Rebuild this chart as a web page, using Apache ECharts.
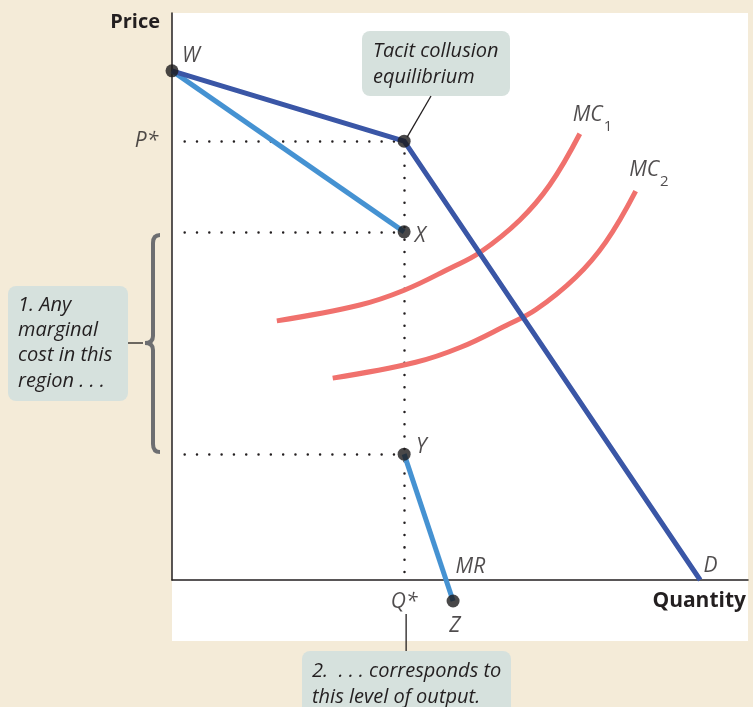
<!DOCTYPE html>
<html><head><meta charset="utf-8">
<script src="https://cdn.jsdelivr.net/npm/echarts@6/dist/echarts.min.js"></script>
<style>html,body{margin:0;padding:0;background:#f4ebd8}#c{width:753px;height:707px}</style>
</head><body><div id="c"></div>
<script>
// Demand curve (kinked at tacit collusion equilibrium)
const demandQ = [0, 40.3, 91.7];
const demandP = [89.8, 77.4, 0];
// Marginal revenue: upper segment and lower segment (gap between X and Y)
const mrUpperQ = [0, 40.3];
const mrUpperP = [89.8, 61.4];
const mrLowerQ = [40.3, 48.8];
const mrLowerP = [22.2, -3.7];
// Marginal cost curves
const mc1Q = [18.2, 32.6, 40.3, 48.3, 53.5, 60.4, 65.6, 70.8];
const mc1P = [45.7, 48.5, 51.1, 55.0, 57.8, 63.5, 69.7, 78.7];
const mc2Q = [27.9, 42.3, 50.0, 58.0, 63.2, 70.1, 75.3, 80.5];
const mc2P = [35.6, 38.4, 41.0, 44.9, 47.7, 53.4, 59.6, 68.6];
// Key points W, equilibrium, X, Y, Z
const pointNames = ['W', 'E', 'X', 'Y', 'Z'];
const pointQ = [0, 40.3, 40.3, 40.3, 48.8];
const pointP = [89.8, 77.4, 61.4, 22.2, -3.7];
// Dotted guides
const qStar = 40.3;
const guideStartQ = 2.2;
const guideLevels = [77.4, 61.4, 22.2];
// Text labels (anchored in data units)
const labelTexts = ['W', 'P*', 'X', 'Y', 'MR', 'Q*', 'Z', 'D', '{m|MC}{s|1}', '{m|MC}{s|2}'];
const labelQ = [3.3, -2.4, 43.1, 43.3, 51.8, 40.3, 49.1, 93.5, 73.0, 82.8];
const labelP = [92.4, 77.4, 60.6, 23.5, 2.3, -3.8, -8.1, 2.5, 81.3, 71.6];
const labelAlign = ['center', 'right', 'center', 'center', 'center', 'center', 'center', 'center', 'center', 'center'];

const zip = (a, b) => a.map((v, i) => [v, b[i]]);
const ink = '#231f20';
const italic = { fontFamily: 'Open Sans', fontStyle: 'italic', fontSize: 21, color: ink };

const chart = echarts.init(document.getElementById('c'));
const option = {
  backgroundColor: '#f4ebd8',
  animation: false,
  grid: { left: 172, right: 5, top: 13, bottom: 127 },
  xAxis: { type: 'value', min: 0, max: 100, axisLine: { onZero: false, lineStyle: { color: ink, width: 1.5 } },
    axisTick: { show: false }, axisLabel: { show: false }, splitLine: { show: false } },
  yAxis: { type: 'value', min: 0, max: 100, axisLine: { show: true, onZero: false, lineStyle: { color: ink, width: 1.5 } },
    axisTick: { show: false }, axisLabel: { show: false }, splitLine: { show: false } },
  series: [
    { type: 'lines', coordinateSystem: 'cartesian2d', z: 1, silent: true,
      lineStyle: { color: ink, width: 2.5, type: [0.01, 12.3], cap: 'round', opacity: 1 },
      data: guideLevels.map(p => ({ coords: [[guideStartQ, p], [qStar, p]] }))
        .concat([{ coords: [[qStar, guideLevels[0]], [qStar, 0]] }]) },
    { type: 'line', data: zip(mc1Q, mc1P), smooth: 0.4, symbol: 'none', lineStyle: { color: '#f0716d', width: 5 } },
    { type: 'line', data: zip(mc2Q, mc2P), smooth: 0.4, symbol: 'none', lineStyle: { color: '#f0716d', width: 5 } },
    { type: 'line', data: zip(mrUpperQ, mrUpperP), symbol: 'none', lineStyle: { color: '#4592d2', width: 5 } },
    { type: 'line', data: zip(mrLowerQ, mrLowerP), symbol: 'none', clip: false, lineStyle: { color: '#4592d2', width: 5 } },
    { type: 'line', data: zip(demandQ, demandP), symbol: 'none', lineStyle: { color: '#3a56a6', width: 5, join: 'miter' } },
    { type: 'scatter', clip: false, z: 5, symbolSize: 13, itemStyle: { color: '#1c1a1b' },
      data: pointNames.map((n, i) => ({ name: n, value: [pointQ[i], pointP[i]] })) },
    { type: 'scatter', clip: false, z: 6, symbolSize: 0, silent: true,
      data: labelTexts.map((t, i) => ({ value: [labelQ[i], labelP[i]],
        label: { show: true, position: 'inside', formatter: t, align: labelAlign[i], verticalAlign: 'middle', ...italic,
          rich: {
            m: { fontFamily: 'Open Sans', fontStyle: 'italic', fontSize: 21, color: ink, lineHeight: 30, verticalAlign: 'top' },
            s: { fontFamily: 'Open Sans', fontStyle: 'normal', fontSize: 15, color: ink, lineHeight: 18, verticalAlign: 'bottom', padding: [0, 0, 0, 1] } } } })) }
  ]
};
chart.setOption(option);

const eq = chart.convertToPixel('grid', [pointQ[1], pointP[1]]);
const topLeft = chart.convertToPixel('grid', [0, 100]);
const botRight = chart.convertToPixel('grid', [100, 0]);
const qPix = chart.convertToPixel('grid', [qStar, 0]);
const boxFill = '#d6e1dd';
const boxFont = 'italic 20px "Open Sans"';
const t = (text, x, y, font, align) => ({ type: 'text', z: 20,
  style: { text, x, y, font: font || boxFont, fill: ink, textAlign: align || 'left', textVerticalAlign: 'middle' } });
const braceStyle = { fill: 'none', stroke: '#6d6e71', lineWidth: 4 };
chart.setOption({
  graphic: [
    { type: 'rect', z: -100, shape: { x: topLeft[0], y: topLeft[1], width: botRight[0] - topLeft[0], height: 641 - topLeft[1] }, style: { fill: '#ffffff' } },
    // axis titles
    t('Price', topLeft[0] - 12, 22, 'bold 20px "Open Sans"', 'right'),
    t('Quantity', botRight[0] - 2, 601, 'bold 21px "Open Sans"', 'right'),
    // Tacit collusion box
    { type: 'rect', z: 15, shape: { x: 362, y: 31, width: 148, height: 65, r: 8 }, style: { fill: boxFill } },
    t('Tacit collusion', 373, 51), t('equilibrium', 373, 77),
    { type: 'line', z: 15, shape: { x1: 431, y1: 96, x2: eq[0] + 3, y2: eq[1] - 4 }, style: { stroke: ink, lineWidth: 1.3 } },
    // Box 1 with brace
    { type: 'rect', z: 15, shape: { x: 8, y: 286, width: 120, height: 115, r: 8 }, style: { fill: boxFill } },
    t('1. Any', 18, 305), t('marginal', 18, 330), t('cost in this', 18, 355), t('region . . .', 18, 381),
    { type: 'line', z: 15, shape: { x1: 128, y1: 343, x2: 143, y2: 343 }, style: { stroke: ink, lineWidth: 1.3 } },
    { type: 'bezierCurve', z: 15, shape: { x1: 160, y1: 235, cpx1: 153, cpy1: 235, x2: 153, y2: 243 }, style: braceStyle },
    { type: 'line', z: 15, shape: { x1: 153, y1: 243, x2: 153, y2: 336 }, style: braceStyle },
    { type: 'bezierCurve', z: 15, shape: { x1: 153, y1: 336, cpx1: 153, cpy1: 343, x2: 145, y2: 343 }, style: braceStyle },
    { type: 'bezierCurve', z: 15, shape: { x1: 145, y1: 343, cpx1: 153, cpy1: 343, x2: 153, y2: 350 }, style: braceStyle },
    { type: 'line', z: 15, shape: { x1: 153, y1: 350, x2: 153, y2: 444 }, style: braceStyle },
    { type: 'bezierCurve', z: 15, shape: { x1: 153, y1: 444, cpx1: 153, cpy1: 452, x2: 160, y2: 452 }, style: braceStyle },
    // Box 2
    { type: 'line', z: 15, shape: { x1: qPix[0] + 2, y1: 614, x2: qPix[0] + 2, y2: 651 }, style: { stroke: ink, lineWidth: 1.3 } },
    { type: 'rect', z: 15, shape: { x: 302, y: 651, width: 209, height: 70, r: 8 }, style: { fill: boxFill } },
    t('2.  . . . corresponds to', 312, 671), t('this level of output.', 312, 697)
  ]
});
</script></body></html>
